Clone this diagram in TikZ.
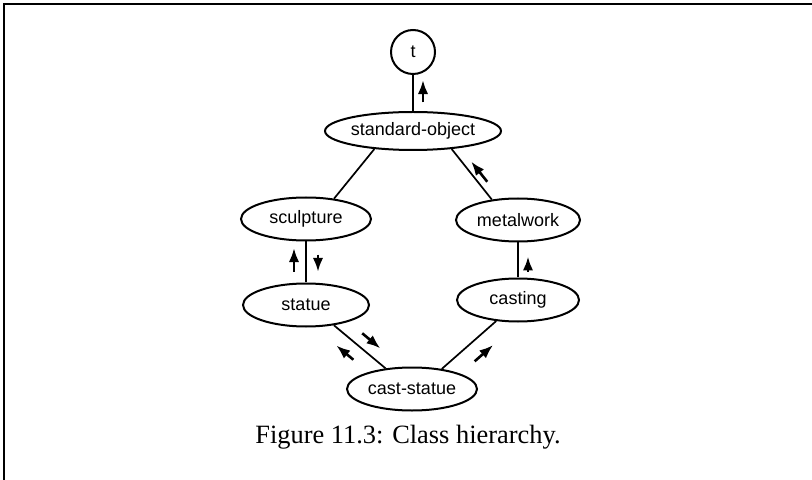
\documentclass[tikz,border=0pt]{standalone}
\usepackage{fontspec}
\setmainfont{Liberation Serif}
\setsansfont{Liberation Sans}
\usetikzlibrary{shapes.geometric,arrows.meta,calc}
\tikzset{
  cls/.style={draw, ellipse, line width=1pt, inner sep=0pt, minimum height=21.5pt, font=\sffamily\fontsize{9}{10}\selectfont},
  link/.style={line width=0.85pt},
  tip/.style={line width=1.3pt, -{Latex[length=7pt,width=5.2pt]}}
}
\begin{document}
\begin{tikzpicture}[x=0.5pt, y=-0.5pt]
\useasboundingbox (0,0) rectangle (812,480);
\draw[line width=1pt] (812,4) -- (4,4) -- (4,480);
\node[draw, circle, line width=1pt, inner sep=0pt, minimum size=22pt, font=\sffamily\fontsize{9}{10}\selectfont] (t) at (413,52) {t};
\node[cls, minimum width=88pt, minimum height=19pt] (so) at (413,131) {standard-object};
\foreach \nm/\x/\y/\w/\txt in {sc/306/219/65/sculpture, mw/518/220/62/metalwork, st/306/305/63/statue, ca/518/300/61/casting, cs/412/389/65/cast-statue}
  \node[cls, minimum width=\w pt] (\nm) at (\x,\y) {\txt};
\foreach \a/\b in {t.south/so.north, so.205/sc.36, so.335/mw.142, sc.south/st.north, mw.south/ca.north, st.324/cs.142, ca.224/cs.34}
  \draw[link] (\a) -- (\b);
\foreach \a/\b/\s/\e/\d in {so.north/t.south/0.24/0.86/5pt, st.north/sc.south/0.26/0.84/-6pt, sc.south/st.north/0.32/0.74/-6pt, mw.142/so.335/0.26/0.66/3.75pt, st.324/cs.142/0.40/0.75/-6pt, cs.142/st.324/0.45/0.78/-7pt, cs.34/ca.224/0.41/0.75/8pt, ca.north/mw.south/0.16/0.60/5pt}
  \draw[tip] ($(\a)!\s!(\b)!\d!-90:(\b)$) -- ($(\a)!\e!(\b)!\d!-90:(\b)$);
\node (cap) at (408,437) {\fontsize{13.2}{15}\selectfont Figure 11.3: Class hierarchy.};
\end{tikzpicture}
\end{document}
